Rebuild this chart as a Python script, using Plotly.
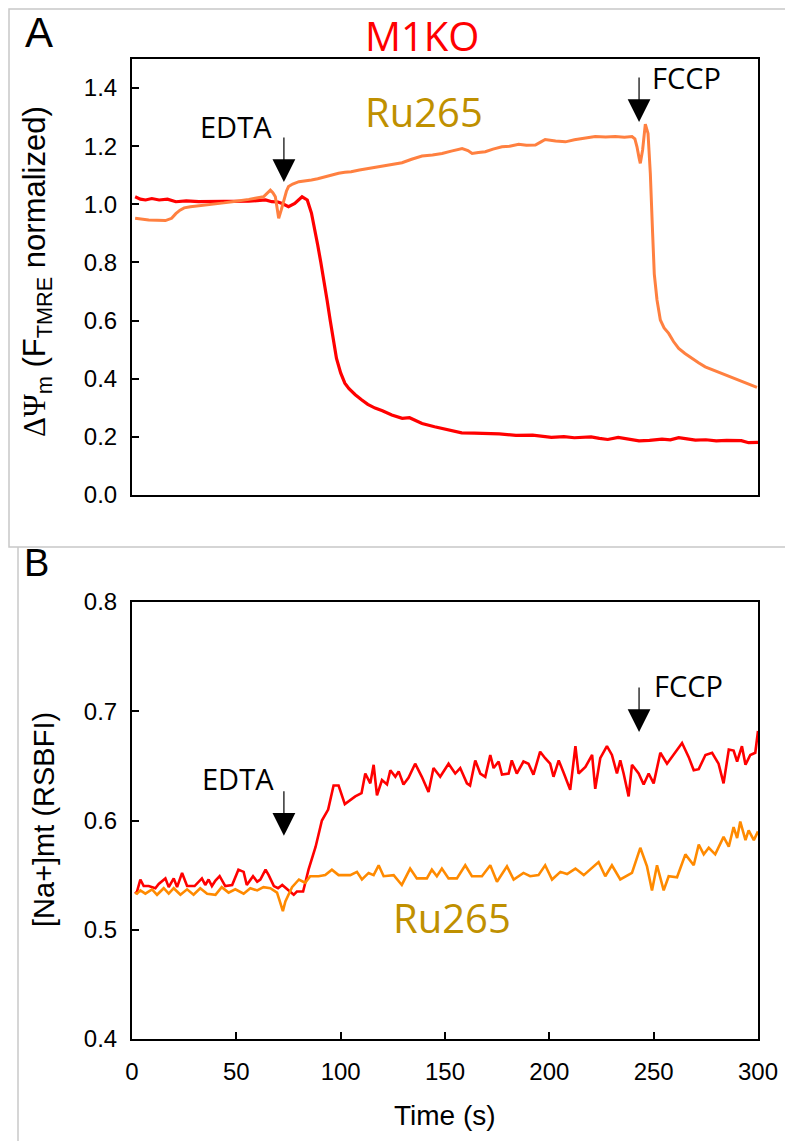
import plotly.graph_objects as go

# panel A - membrane potential (TMRE)
t_a_m1ko = [1.5, 4, 6.5, 9.5, 13, 17, 21, 26, 32, 40, 48, 56, 64, 67, 70, 72, 75, 78, 81.5, 84, 86, 87.5,
            89, 90.5, 92, 93.5, 95, 96.5, 98, 100, 102, 104, 107, 110, 113, 116.5, 120, 124.5, 129.5, 133,
            139, 145, 152, 158, 164, 168, 176, 184, 192, 201, 207, 212, 216, 220, 224, 228, 233, 238, 243,
            248, 254, 258, 262, 266, 270, 275, 280, 285, 289, 292, 295.5, 300]
v_a_m1ko = [1.026, 1.018, 1.015, 1.020, 1.015, 1.018, 1.009, 1.012, 1.009, 1.010, 1.009, 1.011, 1.015, 1.009,
            1.008, 1.003, 0.992, 1.003, 1.026, 1.015, 0.97, 0.92, 0.86, 0.80, 0.74, 0.67, 0.60, 0.53, 0.47,
            0.42, 0.385, 0.366, 0.345, 0.328, 0.312, 0.299, 0.29, 0.275, 0.264, 0.266, 0.246, 0.235, 0.223,
            0.214, 0.213, 0.212, 0.210, 0.205, 0.206, 0.198, 0.201, 0.197, 0.199, 0.200, 0.195, 0.191, 0.198,
            0.193, 0.186, 0.188, 0.192, 0.190, 0.197, 0.193, 0.189, 0.190, 0.186, 0.188, 0.186, 0.187, 0.180,
            0.181]

t_a_ru = [1.5, 5, 8, 12, 16, 19, 21, 23, 25, 28, 31, 35, 40, 44, 48, 52, 56, 59, 63, 66.3, 67.5, 68.7, 69.5,
          70.3, 71.5, 72.7, 74, 75, 77, 80, 83, 86, 89, 92.6, 96, 99, 102, 105, 109, 113, 117, 121, 125,
          129.4, 134, 139, 144, 148.6, 153, 158.2, 161, 163, 166, 169.3, 173, 177.3, 181, 185.3, 189, 193.3,
          196, 198, 203, 207.7, 212, 217.2, 222, 227, 231.6, 236, 239.6, 241, 242, 243, 243.6, 244.7, 246,
          247.3, 248.4, 249.5, 250.3, 251.6, 253.2, 255, 257.2, 259.5, 262, 265, 268.3, 271.5, 274.7, 278.5,
          282.7, 286.5, 290.7, 295, 299.5]
v_a_ru = [0.952, 0.948, 0.946, 0.945, 0.944, 0.952, 0.968, 0.980, 0.988, 0.992, 0.994, 0.998, 1.002, 1.005,
          1.009, 1.012, 1.017, 1.021, 1.026, 1.049, 1.040, 1.026, 0.99, 0.952, 0.98, 1.015, 1.045, 1.061,
          1.07, 1.078, 1.08, 1.084, 1.088, 1.095, 1.100, 1.107, 1.110, 1.112, 1.118, 1.123, 1.128, 1.134,
          1.140, 1.143, 1.155, 1.166, 1.170, 1.175, 1.183, 1.192, 1.185, 1.175, 1.178, 1.181, 1.190, 1.198,
          1.200, 1.207, 1.203, 1.204, 1.215, 1.223, 1.218, 1.215, 1.222, 1.227, 1.233, 1.232, 1.233, 1.231,
          1.233, 1.225, 1.198, 1.160, 1.141, 1.187, 1.276, 1.244, 1.106, 0.90, 0.76, 0.671, 0.602, 0.575,
          0.556, 0.528, 0.504, 0.487, 0.470, 0.455, 0.441, 0.430, 0.418, 0.407, 0.396, 0.385, 0.370]

# panel B - mitochondrial Na+ (SBFI)
t_b_m1ko = [1.5, 2.4, 4, 5.6, 8, 11.2, 12.8, 16, 17.6, 20, 21.6, 24, 26.4, 30, 33.5, 35.1, 36.7, 38.3, 40, 42,
            44.7, 48, 51, 53.5, 55, 58, 60, 61.5, 64, 65.5, 68, 70, 72, 74, 77.5, 79, 82, 84.6, 88, 91, 94,
            96.6, 99, 102, 104.6, 107, 110, 111.8, 114.2, 115.8, 117.4, 119.8, 122.2, 123.8, 126.2, 127.8,
            130.1, 132.5, 135.7, 138.9, 142.1, 144.5, 147.7, 151.7, 154.9, 157.3, 160.5, 162, 164.5, 166.9,
            169.3, 171.7, 173.3, 175.7, 177.3, 180.5, 182, 184.4, 187.6, 190, 192.4, 195.6, 198, 200.4, 202,
            204.5, 207, 210, 212.5, 214, 217.3, 220.5, 222, 224.4, 227.6, 230, 232.4, 234, 235.6, 238, 239.6,
            242.8, 245.2, 247.6, 250, 253.2, 256.4, 259.6, 263.6, 266.8, 269.2, 271.6, 274.8, 278, 281.1,
            283.5, 286, 288.3, 290, 292.3, 294, 296.3, 298.7, 300]
v_b_m1ko = [0.533, 0.535, 0.546, 0.540, 0.540, 0.538, 0.542, 0.547, 0.539, 0.547, 0.539, 0.552, 0.540, 0.540,
            0.547, 0.541, 0.546, 0.540, 0.545, 0.549, 0.540, 0.541, 0.555, 0.553, 0.541, 0.549, 0.544, 0.546,
            0.555, 0.550, 0.540, 0.538, 0.541, 0.538, 0.532, 0.535, 0.535, 0.555, 0.576, 0.600, 0.610, 0.632,
            0.632, 0.615, 0.619, 0.622, 0.625, 0.643, 0.634, 0.651, 0.623, 0.637, 0.633, 0.646, 0.640, 0.645,
            0.633, 0.639, 0.652, 0.640, 0.626, 0.648, 0.640, 0.652, 0.643, 0.648, 0.634, 0.632, 0.655, 0.643,
            0.640, 0.660, 0.648, 0.654, 0.642, 0.643, 0.655, 0.643, 0.654, 0.652, 0.642, 0.663, 0.657, 0.652,
            0.640, 0.655, 0.643, 0.628, 0.668, 0.643, 0.649, 0.660, 0.629, 0.657, 0.668, 0.660, 0.643, 0.655,
            0.643, 0.622, 0.651, 0.643, 0.633, 0.643, 0.634, 0.662, 0.652, 0.660, 0.671, 0.658, 0.646, 0.647,
            0.660, 0.662, 0.652, 0.634, 0.665, 0.664, 0.654, 0.668, 0.651, 0.660, 0.662, 0.682]

t_b_ru = [1.5, 2.4, 4, 6.4, 9.6, 12, 15.2, 17.6, 20, 23.2, 26.4, 29.5, 32.7, 36, 40, 43, 46.3, 49.5, 53.5,
          56.7, 60, 63, 66.3, 69.5, 71, 72.3, 73.5, 76.7, 80, 83, 85.4, 89.4, 92.6, 95.8, 99, 104.6, 107.8,
          110.2, 113.4, 115.8, 118.2, 120.6, 125.4, 129.3, 133.3, 136.5, 141.3, 143.7, 146.1, 148.5, 151.7,
          155.7, 159.7, 162.9, 167.7, 171.7, 174.9, 179.7, 182.9, 187.6, 190.8, 194.8, 198, 201.3, 205.3,
          208.5, 212.5, 216.5, 223.6, 226.8, 230, 234, 239.6, 243.6, 246.8, 249.2, 251.6, 254.8, 257.2,
          261.2, 265.2, 269.2, 271.6, 274, 276.4, 279.5, 283.5, 286, 288.3, 290, 291.5, 294, 295.5, 298, 300]
v_b_ru = [0.534, 0.533, 0.536, 0.533, 0.537, 0.532, 0.538, 0.533, 0.538, 0.532, 0.537, 0.532, 0.538, 0.533,
          0.532, 0.539, 0.534, 0.537, 0.533, 0.538, 0.536, 0.539, 0.538, 0.534, 0.525, 0.517, 0.526, 0.539,
          0.546, 0.543, 0.549, 0.549, 0.550, 0.555, 0.550, 0.550, 0.553, 0.546, 0.552, 0.550, 0.559, 0.549,
          0.550, 0.541, 0.556, 0.547, 0.547, 0.555, 0.549, 0.556, 0.547, 0.547, 0.559, 0.549, 0.549, 0.559,
          0.544, 0.558, 0.546, 0.552, 0.549, 0.550, 0.559, 0.546, 0.553, 0.551, 0.556, 0.550, 0.562, 0.549,
          0.559, 0.546, 0.552, 0.575, 0.558, 0.536, 0.559, 0.536, 0.549, 0.548, 0.569, 0.559, 0.578, 0.569,
          0.575, 0.569, 0.585, 0.576, 0.594, 0.584, 0.599, 0.582, 0.591, 0.582, 0.590]

W, H = 793, 1141
OFF_X, OFF_Y = 6, 8  # page body margin
def px(x): return (x - OFF_X) / W
def py(y): return 1 - (y - OFF_Y) / H

fig = go.Figure()
fig.add_trace(go.Scatter(x=t_a_m1ko, y=v_a_m1ko, mode='lines', line=dict(color='#FF0000', width=3.2),
                         xaxis='x', yaxis='y', showlegend=False))
fig.add_trace(go.Scatter(x=t_a_ru, y=v_a_ru, mode='lines', line=dict(color='#FF8040', width=3),
                         xaxis='x', yaxis='y', showlegend=False))
fig.add_trace(go.Scatter(x=t_b_m1ko, y=v_b_m1ko, mode='lines', line=dict(color='#FF0000', width=2.6),
                         xaxis='x2', yaxis='y2', showlegend=False))
fig.add_trace(go.Scatter(x=t_b_ru, y=v_b_ru, mode='lines', line=dict(color='#FF8A00', width=2.6),
                         xaxis='x2', yaxis='y2', showlegend=False))

tickfont = dict(family='Liberation Sans, Arial', size=24, color='black')
axis_common = dict(showline=True, linecolor='black', linewidth=2, mirror=True, showgrid=False,
                   zeroline=False, ticks='inside', ticklen=7, tickwidth=2, tickcolor='black', tickfont=tickfont)

fig.update_layout(
    width=W, height=H, paper_bgcolor='white', plot_bgcolor='white',
    margin=dict(l=0, r=0, t=0, b=0, autoexpand=False),
    xaxis=dict(axis_common, domain=[px(130), px(756)], range=[0, 300], ticks='', showticklabels=False,
               anchor='y'),
    yaxis=dict(axis_common, domain=[py(495), py(59)], range=[0, 1.5], tickvals=[0, 0.2, 0.4, 0.6, 0.8, 1.0, 1.2, 1.4],
               tickformat='.1f', anchor='x', ticklabelstandoff=8),
    xaxis2=dict(axis_common, domain=[px(130), px(756)], range=[0, 300], tickvals=[0, 50, 100, 150, 200, 250, 300],
                anchor='y2', ticklabelstandoff=10),
    yaxis2=dict(axis_common, domain=[py(1039), py(602)], range=[0.4, 0.8], tickvals=[0.4, 0.5, 0.6, 0.7, 0.8],
                tickformat='.1f', anchor='x2', ticklabelstandoff=8),
)

# light frames around the panels (pulled in to the page edge)
fig.add_shape(type='rect', xref='paper', yref='paper', x0=1 / W, x1=1.01, y0=py(547), y1=1 - 1 / H,
              line=dict(color='#C8C8C8', width=1.5), layer='below')
fig.add_shape(type='line', xref='paper', yref='paper', x0=px(16), x1=px(16), y0=py(547), y1=0,
              line=dict(color='#C8C8C8', width=1.5), layer='below')

label = 'Open Sans'
ann = [
    dict(text='A', x=px(37), y=py(33), font=dict(size=42, family='Liberation Sans, Arial')),
    dict(text='B', x=px(34), y=py(563), font=dict(size=38, family='Liberation Sans, Arial')),
    dict(text='M1KO', x=px(420), y=py(35), font=dict(size=40, family=label, color='#FF0000')),
    dict(text='Ru265', x=px(422), y=py(112), font=dict(size=40, family=label, color='#BF9000')),
    dict(text='Ru265', x=px(450), y=py(917), font=dict(size=40, family=label, color='#BF9000')),
    dict(text='EDTA', x=px(234), y=py(126), font=dict(size=29, family=label)),
    dict(text='FCCP', x=px(684), y=py(77), font=dict(size=29, family=label)),
    dict(text='EDTA', x=px(236), y=py(778), font=dict(size=29, family=label)),
    dict(text='FCCP', x=px(686), y=py(685), font=dict(size=29, family=label)),
    dict(text='<span style="font-family:Liberation Serif">ΔΨ</span><sub>m</sub> (F<sub>TMRE</sub> normalized)',
         x=px(35), y=py(272), textangle=-90, font=dict(size=31, family='Liberation Sans, Arial')),
    dict(text='[Na+]mt (RSBFI)', x=px(42), y=py(820), textangle=-90,
         font=dict(size=29, family='Liberation Sans, Arial')),
    dict(text='Time (s)', x=px(443), y=py(1115), font=dict(size=28, family='Liberation Sans, Arial')),
]
for a in ann:
    fig.add_annotation(xref='paper', yref='paper', showarrow=False, xanchor='center', yanchor='middle',
                       font_color=a['font'].get('color', 'black'), **{k: v for k, v in a.items()})

# treatment arrows
arrows = [('x', 'y', 72.8, 1.077), ('x', 'y', 243, 1.283), ('x2', 'y2', 72.8, 0.586), ('x2', 'y2', 243, 0.681)]
for xr, yr, xv, yv in arrows:
    fig.add_annotation(xref=xr, yref=yr, x=xv, y=yv, ax=0, ay=-46, text='', showarrow=True,
                       arrowhead=2, arrowsize=3.8, arrowwidth=1.2, arrowcolor='black', standoff=0)

fig.write_html("out.html")
